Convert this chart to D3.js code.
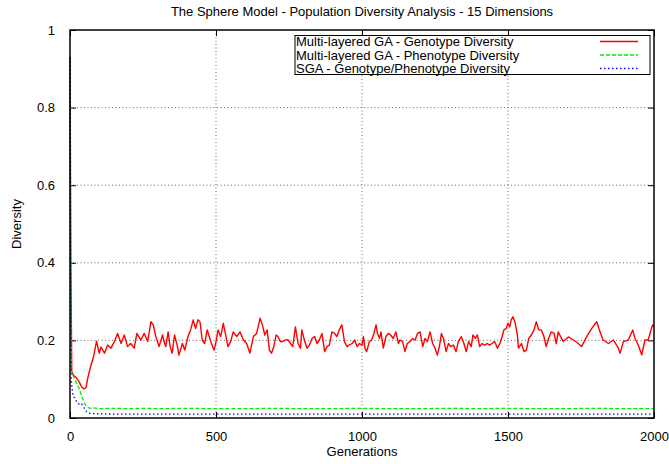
<!DOCTYPE html>
<html><head><meta charset="utf-8">
<script src="https://cdn.jsdelivr.net/npm/d3@7"></script>
<style>
html,body{margin:0;padding:0;background:#fff;}
svg{display:block;font-family:"Liberation Sans",Arial,Helvetica,sans-serif;}
</style></head>
<body><svg id="c" width="669" height="464"></svg>
<script>
// ---- data ----
const titleText = "The Sphere Model - Population Diversity Analysis - 15 Dimensions";
const xTicks = [0, 500, 1000, 1500, 2000];
const yTicks = [0, 0.2, 0.4, 0.6, 0.8, 1];
const yTickLabels = ["0", "0.2", "0.4", "0.6", "0.8", "1"];
const seriesNames = ["Multi-layered GA - Genotype Diversity", "Multi-layered GA - Phenotype Diversity", "SGA - Genotype/Phenotype Diversity"];

const genoGen = [0,3,6,12,20,30,40,48,55,60,66,72,78,83,91,100,106,118,129,140,152,163,175,186,197,208,220,229,243,254,266,277,285,294,305,317,322,328,336,343,350,358,368,373,385,393,404,413,422,430,438,445,453,461,470,482,493,499,507,516,525,533,541,550,559,571,582,594,605,616,628,639,651,659,667,675,683,690,698,706,712,720,728,737,747,755,763,772,781,789,794,804,812,820,829,838,846,854,863,872,880,888,897,906,914,922,931,940,949,956,966,975,983,991,1000,1005,1010,1016,1025,1033,1041,1048,1053,1060,1065,1073,1082,1090,1098,1107,1116,1125,1130,1139,1147,1155,1164,1174,1182,1190,1199,1208,1216,1224,1233,1242,1250,1258,1265,1272,1279,1288,1296,1304,1313,1322,1330,1340,1349,1357,1365,1374,1380,1388,1395,1403,1411,1420,1429,1437,1445,1454,1464,1472,1480,1486,1494,1500,1506,1511,1517,1525,1532,1536,1546,1555,1563,1571,1580,1589,1597,1605,1614,1623,1631,1639,1648,1658,1665,1672,1689,1707,1724,1741,1752,1769,1787,1804,1815,1826,1844,1861,1878,1884,1895,1912,1927,1935,1946,1958,1969,1980,1995,2000];
const genoVal = [0.93,0.40,0.12,0.11,0.105,0.095,0.08,0.075,0.078,0.10,0.119,0.137,0.15,0.167,0.198,0.167,0.183,0.167,0.188,0.180,0.197,0.218,0.192,0.214,0.184,0.192,0.180,0.218,0.201,0.218,0.197,0.248,0.240,0.210,0.184,0.214,0.197,0.184,0.222,0.184,0.167,0.214,0.184,0.162,0.192,0.175,0.210,0.227,0.253,0.231,0.253,0.248,0.201,0.192,0.227,0.197,0.175,0.192,0.227,0.210,0.244,0.214,0.184,0.197,0.222,0.210,0.222,0.201,0.192,0.167,0.210,0.218,0.257,0.240,0.214,0.227,0.175,0.167,0.184,0.214,0.210,0.197,0.197,0.201,0.201,0.192,0.184,0.235,0.192,0.180,0.227,0.197,0.180,0.188,0.205,0.210,0.192,0.201,0.218,0.171,0.184,0.188,0.222,0.218,0.210,0.227,0.240,0.197,0.184,0.188,0.192,0.201,0.184,0.192,0.188,0.210,0.180,0.171,0.197,0.201,0.218,0.240,0.218,0.205,0.222,0.180,0.210,0.218,0.214,0.205,0.222,0.192,0.201,0.197,0.171,0.192,0.197,0.205,0.201,0.218,0.222,0.184,0.205,0.197,0.222,0.192,0.180,0.162,0.184,0.218,0.205,0.171,0.192,0.184,0.188,0.171,0.197,0.210,0.192,0.171,0.197,0.184,0.214,0.205,0.214,0.184,0.192,0.188,0.192,0.188,0.192,0.197,0.180,0.192,0.210,0.227,0.231,0.244,0.235,0.253,0.261,0.244,0.214,0.180,0.192,0.171,0.175,0.205,0.214,0.227,0.248,0.227,0.227,0.210,0.184,0.205,0.222,0.218,0.192,0.222,0.197,0.209,0.201,0.192,0.184,0.209,0.231,0.248,0.222,0.201,0.192,0.201,0.180,0.167,0.197,0.201,0.227,0.205,0.188,0.163,0.201,0.201,0.240,0.235];

const phenoGen = [0,2,5,10,16,23,29,34,40,46,52,57,68,80,100,150,200,250,300,400,500,600,700,800,900,1000,1100,1200,1300,1400,1500,1600,1700,1800,1900,2000];
const phenoVal = [0.93,0.30,0.12,0.11,0.10,0.09,0.08,0.072,0.055,0.046,0.035,0.029,0.025,0.026,0.024,0.025,0.024,0.025,0.024,0.025,0.024,0.024,0.025,0.024,0.024,0.025,0.024,0.024,0.025,0.024,0.025,0.024,0.024,0.025,0.024,0.024];

const sgaGen = [0,2,4,6,10,19,27,34,40,46,57,68,90,150,300,500,800,1000,1300,1500,1800,2000];
const sgaVal = [0.93,0.25,0.10,0.085,0.059,0.046,0.038,0.034,0.036,0.029,0.016,0.012,0.011,0.010,0.010,0.010,0.010,0.010,0.010,0.010,0.010,0.010];

const colors = ["#ff0000", "#00ee00", "#0000ff"];
const dashes = [null, "4,2", "1.5,2.5"];

// ---- layout ----
const svg = d3.select("#c");
const L = 70, R = 654, T = 30, B = 418;
const x = d3.scaleLinear().domain([0, 2000]).range([L, R]);
const y = d3.scaleLinear().domain([0, 1]).range([B, T]);

// grid
const grid = svg.append("g").attr("stroke", "#444").attr("stroke-width", 0.8).attr("stroke-dasharray", "1,2.5");
xTicks.filter(d => d > 0 && d < 2000).forEach(d => {
  grid.append("line").attr("x1", x(d)).attr("x2", x(d)).attr("y1", T).attr("y2", B);
});
yTicks.filter(d => d > 0 && d < 1).forEach(d => {
  grid.append("line").attr("x1", L).attr("x2", R).attr("y1", y(d)).attr("y2", y(d));
});

// axes via d3 (ticks inward, mirrored)
const fs = "13px";
const ax = svg.append("g").attr("transform", `translate(0,${B})`)
  .call(d3.axisBottom(x).tickValues(xTicks).tickSize(-6).tickPadding(14).tickFormat(d3.format("d")));
const ay = svg.append("g").attr("transform", `translate(${L},0)`)
  .call(d3.axisLeft(y).tickValues(yTicks).tickSize(-6).tickPadding(15).tickFormat((d, i) => yTickLabels[i]));
const axTop = svg.append("g").attr("transform", `translate(0,${T})`)
  .call(d3.axisTop(x).tickValues(xTicks).tickSize(-6).tickFormat(""));
const ayR = svg.append("g").attr("transform", `translate(${R},0)`)
  .call(d3.axisRight(y).tickValues(yTicks).tickSize(-6).tickFormat(""));
[ax, ay, axTop, ayR].forEach(g => {
  g.select(".domain").remove();
  g.selectAll("line").attr("stroke", "#000").attr("stroke-width", 1);
  g.selectAll("text").attr("font-size", fs).attr("fill", "#000").attr("font-family", "Liberation Sans, Arial, sans-serif");
});

// series
const line = d3.line().x(d => x(d[0])).y(d => y(d[1]));
const series = [
  d3.zip(genoGen, genoVal),
  d3.zip(phenoGen, phenoVal),
  d3.zip(sgaGen, sgaVal)
];
series.forEach((s, i) => {
  const p = svg.append("path").datum(s).attr("d", line).attr("fill", "none")
    .attr("stroke", colors[i]).attr("stroke-width", i === 0 ? 1.4 : 1.3)
    .attr("stroke-linejoin", "round");
  if (dashes[i]) p.attr("stroke-dasharray", dashes[i]);
});

// border
svg.append("rect").attr("x", L).attr("y", T).attr("width", R - L).attr("height", B - T)
  .attr("fill", "none").attr("stroke", "#000").attr("stroke-width", 1.5);

// legend
const lg = svg.append("g");
lg.append("rect").attr("x", 295).attr("y", 35.5).attr("width", 355).attr("height", 39)
  .attr("fill", "#fff").attr("stroke", "#000").attr("stroke-width", 1);
seriesNames.forEach((n, i) => {
  const yy = 41.5 + i * 13.5;
  lg.append("text").attr("x", 296).attr("y", yy).attr("dy", "0.35em").attr("font-size", "13px").text(n);
  const l = lg.append("line").attr("x1", 600).attr("x2", 638).attr("y1", yy).attr("y2", yy)
    .attr("stroke", colors[i]).attr("stroke-width", 1.3);
  if (dashes[i]) l.attr("stroke-dasharray", dashes[i]);
});

// titles
svg.append("text").attr("x", 362).attr("y", 16).attr("text-anchor", "middle").attr("font-size", "13px").text(titleText);
svg.append("text").attr("x", 362).attr("y", 456).attr("text-anchor", "middle").attr("font-size", "13px").text("Generations");
svg.append("text").attr("transform", "translate(21,224) rotate(-90)").attr("text-anchor", "middle").attr("font-size", "13px").text("Diversity");
</script></body></html>
